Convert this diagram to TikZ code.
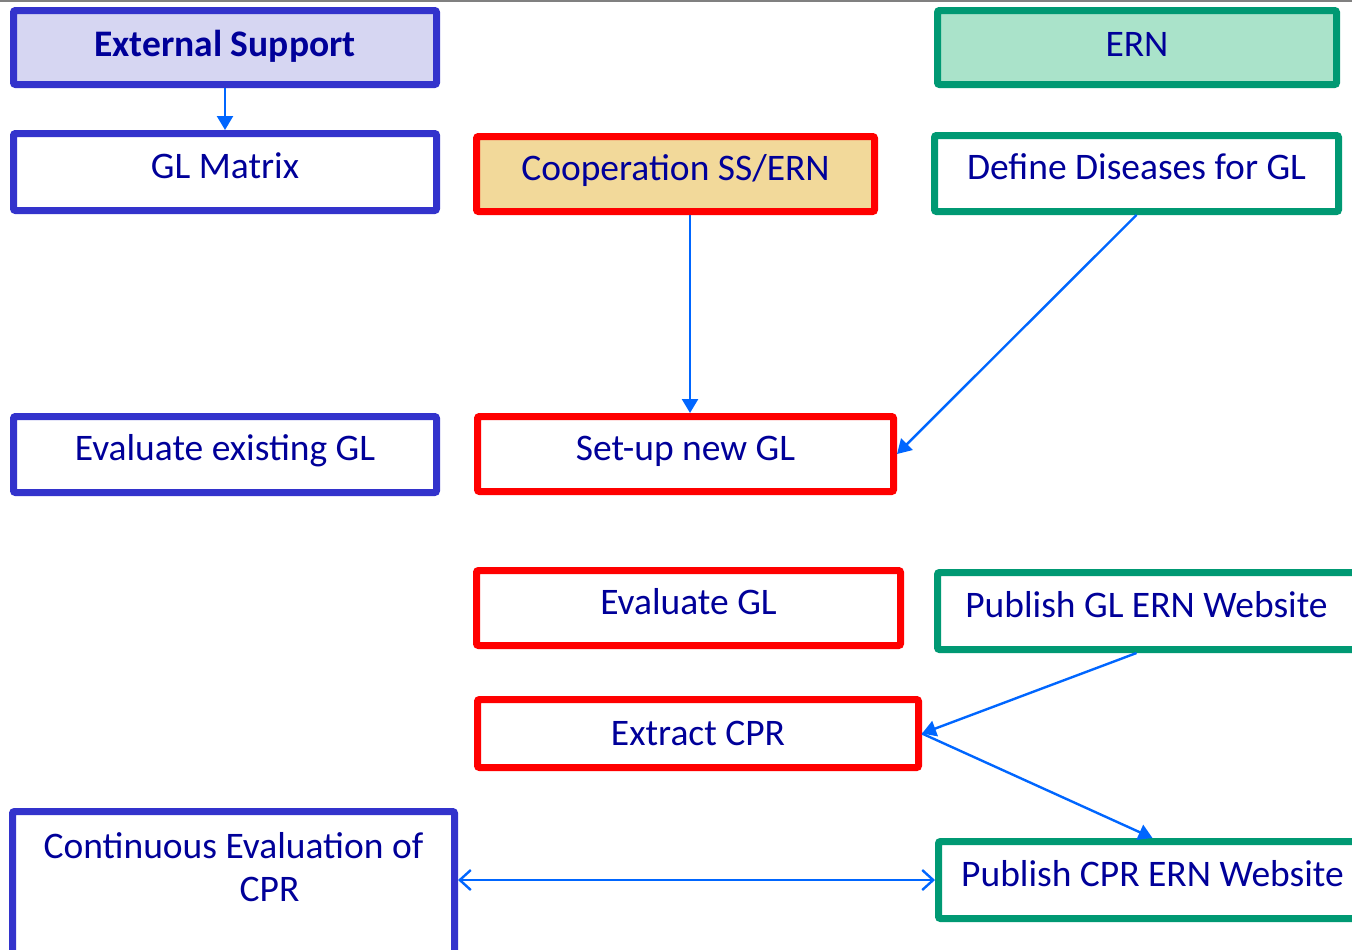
\documentclass[tikz,border=0pt]{standalone}
\usepackage{fontspec}
\setmainfont{Carlito}
\usetikzlibrary{arrows.meta}

\definecolor{supblue}{HTML}{3333CC}
\definecolor{supfill}{HTML}{D6D6F2}
\definecolor{erngreen}{HTML}{009973}
\definecolor{ernfill}{HTML}{AAE3CA}
\definecolor{ssred}{HTML}{FF0000}
\definecolor{ssfill}{HTML}{F2D99A}
\definecolor{navytext}{HTML}{000099}
\definecolor{linkblue}{HTML}{0066FF}

\begin{document}
\begin{tikzpicture}[x=0.5pt,y=-0.5pt]
\tikzstyle{box}=[draw, line width=3.5pt, rounded corners=1pt, inner sep=0pt, align=center,
  text=navytext, font=\fontsize{18.75}{21.5}\selectfont]
\tikzstyle{single}=[text height=12pt, text depth=6pt]
\tikzstyle{supbox}=[box, single, draw=supblue]
\tikzstyle{ernbox}=[box, single, draw=erngreen]
\tikzstyle{ssbox}=[box, single, draw=ssred]
\tikzstyle{link}=[draw=linkblue, line width=1.2pt, -{Triangle[length=7pt,width=8pt]}]

\clip (0,0) rectangle (1352,949);
\draw[gray, line width=1pt] (0,1) -- (1352,1);

% left column
\node[supbox, fill=supfill, text depth=3.5pt, minimum width=211.5pt, minimum height=37pt, font=\fontsize{18.75}{21.5}\selectfont\bfseries] (ext) at (225,47.5) {External Support};
\node[supbox, minimum width=211.5pt, minimum height=38.5pt] (glm) at (225,172) {GL Matrix};
\node[supbox, minimum width=211.5pt, minimum height=38pt] (evex) at (225,454.5) {Evaluate existing GL};
\node[box, draw=supblue, minimum width=221pt, minimum height=76.5pt] (cont) at (233.5,888) {Continuous Evaluation of\\\hspace*{36pt}CPR\\ \mbox{}};

% middle column
\node[ssbox, fill=ssfill, minimum width=199pt, minimum height=37.5pt] (coop) at (675.5,174) {Cooperation SS/ERN};
\node[ssbox, minimum width=208pt, minimum height=37.5pt] (setup) at (685.5,454) {Set-up new GL};
\node[ssbox, minimum width=212pt, minimum height=37.5pt] (evgl) at (688.5,608) {Evaluate GL};
\node[ssbox, text depth=0pt, minimum width=220.5pt, minimum height=34pt] (cpr) at (698,733.5) {Extract CPR};

% right column
\node[ernbox, fill=ernfill, text depth=3.5pt, minimum width=199.5pt, minimum height=37pt] (ern) at (1137,47.5) {ERN};
\node[ernbox, minimum width=202pt, minimum height=38pt] (dis) at (1136.5,173.5) {Define Diseases for GL};
\node[ernbox, minimum width=209pt, minimum height=38.5pt] (pubgl) at (1146.5,611) {Publish GL ERN Website};
\node[ernbox, minimum width=214pt, minimum height=38.5pt] (pubcpr) at (1152.5,880) {Publish CPR ERN Website};

% connectors
\draw[link] (ext) -- (glm);
\draw[link] ([xshift=2.25pt]setup.north |- coop.south) -- ([xshift=2.25pt]setup.north);
\draw[link] (dis.south) -- (setup.east);
\draw[link] (pubgl.south -| dis.south) -- (cpr.east);
\draw[link] (cpr.east) -- (pubcpr.north);
\draw[draw=linkblue, line width=1.2pt, {Straight Barb[length=5.5pt,width=10pt]}-{Straight Barb[length=5.5pt,width=10pt]}] (cont.east |- pubcpr.west) -- (pubcpr.west);

\end{tikzpicture}
\end{document}
